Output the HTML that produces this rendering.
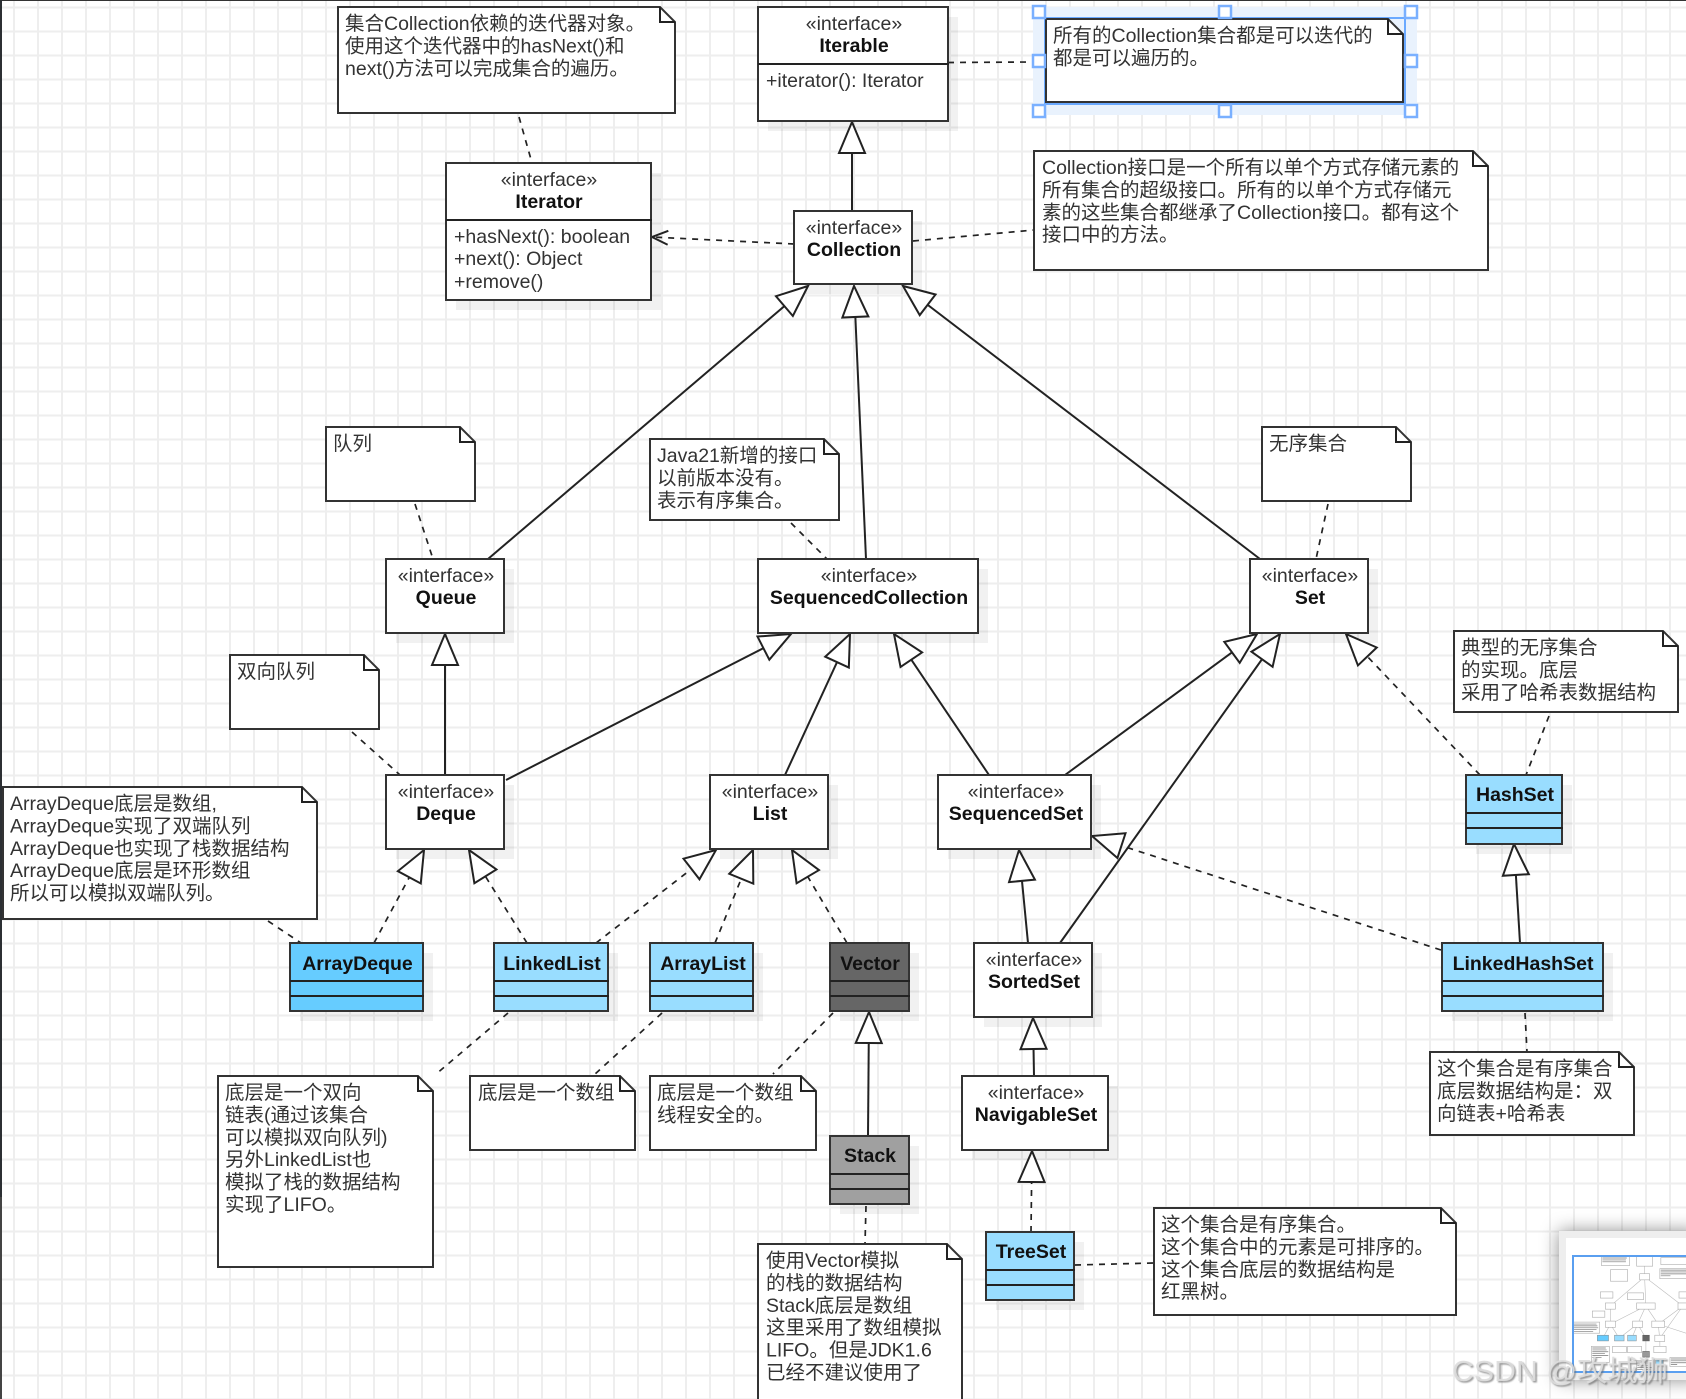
<!DOCTYPE html>
<html><head><meta charset="utf-8"><title>Collection</title>
<style>
html,body{margin:0;padding:0;background:#fff;width:1686px;height:1399px;overflow:hidden}
svg{display:block}
text{font-family:"Liberation Sans","Noto Sans CJK SC",sans-serif;font-size:19.5px;fill:#333}
.b{font-weight:700;fill:#111;text-anchor:middle}
.s{text-anchor:middle}
.box{fill:#fff;stroke:#333;stroke-width:2}
.sh{fill:#000;fill-opacity:.055}
.l{stroke:#222;stroke-width:2;fill:none}
.d{stroke:#222;stroke-width:1.7;fill:none;stroke-dasharray:6 6}
.h{fill:#fff;stroke:#7ab0ff;stroke-width:2.5}
</style></head><body>
<svg width="1686" height="1399" viewBox="0 0 1686 1399" xmlns="http://www.w3.org/2000/svg">
<defs>
<pattern id="g" width="24" height="24" patternUnits="userSpaceOnUse">
<rect x="13" y="0" width="2" height="24" fill="#eee"/><rect x="0" y="6.5" width="24" height="2" fill="#eee"/>
</pattern>
<marker id="t" markerUnits="userSpaceOnUse" markerWidth="40" markerHeight="34" refX="35" refY="17" orient="auto">
<path d="M35,17 L4,4 L4,30 Z" fill="#fff" stroke="#222" stroke-width="2"/>
</marker>
<marker id="o" markerUnits="userSpaceOnUse" markerWidth="24" markerHeight="24" refX="20" refY="12" orient="auto">
<path d="M4,5 L20,12 L4,19" fill="none" stroke="#222" stroke-width="2"/>
</marker>
<filter id="bl" x="-20%" y="-20%" width="140%" height="140%"><feGaussianBlur stdDeviation="9"/></filter>
<filter id="bs" x="-10%" y="-10%" width="120%" height="120%"><feGaussianBlur stdDeviation="0.6"/></filter>
<filter id="wb" x="-5%" y="-20%" width="110%" height="140%"><feGaussianBlur stdDeviation="0.7"/></filter>
<clipPath id="mc"><rect x="1573" y="1256" width="113" height="116"/></clipPath>
</defs>
<rect width="1686" height="1399" fill="#fff"/>
<rect width="1686" height="1399" fill="url(#g)"/>
<rect x="0" y="0" width="1686" height="1" fill="#333"/>
<rect x="0" y="0" width="2" height="1197" fill="#2c2f33"/>
<rect x="0" y="1197" width="2" height="202" fill="#444"/>

<!-- shadows -->
<rect class="sh" x="768" y="17" width="190" height="114"/>
<rect class="sh" x="456" y="173" width="205" height="137"/>
<rect class="sh" x="804" y="221" width="118" height="73"/>
<rect class="sh" x="396" y="569" width="118" height="74"/>
<rect class="sh" x="768" y="569" width="220" height="74"/>
<rect class="sh" x="1260" y="569" width="118" height="74"/>
<rect class="sh" x="396" y="785" width="118" height="74"/>
<rect class="sh" x="720" y="785" width="118" height="74"/>
<rect class="sh" x="948" y="785" width="153" height="74"/>
<rect class="sh" x="1476" y="785" width="96" height="69"/>
<rect class="sh" x="300" y="953" width="133" height="68"/>
<rect class="sh" x="504" y="953" width="114" height="68"/>
<rect class="sh" x="660" y="953" width="103" height="68"/>
<rect class="sh" x="840" y="953" width="79" height="68"/>
<rect class="sh" x="984" y="953" width="118" height="74"/>
<rect class="sh" x="1452" y="953" width="161" height="68"/>
<rect class="sh" x="972" y="1086" width="146" height="74"/>
<rect class="sh" x="840" y="1146" width="79" height="68"/>
<rect class="sh" x="996" y="1242" width="88" height="68"/>

<!-- selection highlight -->
<rect x="1033" y="7" width="384" height="108" fill="#e9f2fd"/>

<!-- solid generalization -->
<g class="l">
<line x1="852" y1="211" x2="852" y2="122" marker-end="url(#t)"/>
<line x1="488" y1="559" x2="808" y2="286" marker-end="url(#t)"/>
<line x1="866" y1="559" x2="854" y2="286" marker-end="url(#t)"/>
<line x1="1260" y1="559" x2="903" y2="286" marker-end="url(#t)"/>
<line x1="445" y1="775" x2="445" y2="634" marker-end="url(#t)"/>
<line x1="506" y1="780" x2="791" y2="634" marker-end="url(#t)"/>
<line x1="785" y1="775" x2="850" y2="634" marker-end="url(#t)"/>
<line x1="989" y1="775" x2="894" y2="634" marker-end="url(#t)"/>
<line x1="1065" y1="775" x2="1257" y2="634" marker-end="url(#t)"/>
<line x1="1028" y1="943" x2="1019" y2="850" marker-end="url(#t)"/>
<line x1="1520" y1="943" x2="1514" y2="844" marker-end="url(#t)"/>
<line x1="1034" y1="1076" x2="1033" y2="1018" marker-end="url(#t)"/>
<line x1="868" y1="1136" x2="869" y2="1012" marker-end="url(#t)"/>
</g>
<!-- dashed generalization -->
<g class="d">
<line x1="1480" y1="775" x2="1346" y2="634" marker-end="url(#t)"/>
<line x1="374" y1="943" x2="424" y2="850" marker-end="url(#t)"/>
<line x1="527" y1="943" x2="469" y2="850" marker-end="url(#t)"/>
<line x1="596" y1="943" x2="716" y2="850" marker-end="url(#t)"/>
<line x1="715" y1="943" x2="753" y2="850" marker-end="url(#t)"/>
<line x1="847" y1="943" x2="792" y2="850" marker-end="url(#t)"/>
<line x1="1441" y1="950" x2="1092" y2="836" marker-end="url(#t)"/>
<line x1="1031" y1="1232" x2="1032" y2="1151" marker-end="url(#t)"/>
<line x1="794" y1="244" x2="652" y2="237" marker-end="url(#o)"/>
<!-- note links -->
<line x1="519" y1="117" x2="532" y2="163"/>
<line x1="948" y1="62.500" x2="1033" y2="62"/>
<line x1="913" y1="241" x2="1034" y2="230"/>
<line x1="415" y1="504" x2="433" y2="559"/>
<line x1="791" y1="523" x2="827" y2="559"/>
<line x1="1328" y1="504" x2="1316" y2="559"/>
<line x1="352" y1="732" x2="400" y2="775"/>
<line x1="1549" y1="716" x2="1526" y2="775"/>
<line x1="268" y1="921" x2="301" y2="943"/>
<line x1="1525" y1="1013" x2="1527" y2="1052"/>
<line x1="1075" y1="1265" x2="1154" y2="1263"/>
<line x1="866" y1="1206" x2="865" y2="1244"/>
<line x1="508" y1="1013" x2="435" y2="1075"/>
<line x1="662" y1="1013" x2="594" y2="1075"/>
<line x1="833" y1="1013" x2="773" y2="1074"/>
</g>
<line class="l" x1="1060" y1="943" x2="1280" y2="634" marker-end="url(#t)"/>

<!-- notes -->
<g>
<path class="box" d="M338,7H660L675,22V113H338Z"/><path class="l" d="M660,7V22H675"/>
<text x="345" y="30">集合Collection依赖的迭代器对象。</text><text x="345" y="52.4">使用这个迭代器中的hasNext()和</text><text x="345" y="74.8">next()方法可以完成集合的遍历。</text>

<rect x="1045" y="18" width="360" height="86" fill="none" stroke="#6aa9ff" stroke-width="2"/>
<path class="box" d="M1046,19H1388L1403,34V102H1046Z"/><path class="l" d="M1388,19V34H1403"/>
<text x="1053" y="42">所有的Collection集合都是可以迭代的</text><text x="1053" y="64.4">都是可以遍历的。</text>

<path class="box" d="M1034,151H1473L1488,166V270H1034Z"/><path class="l" d="M1473,151V166H1488"/>
<text x="1042" y="174">Collection接口是一个所有以单个方式存储元素的</text><text x="1042" y="196.4">所有集合的超级接口。所有的以单个方式存储元</text><text x="1042" y="218.8">素的这些集合都继承了Collection接口。都有这个</text><text x="1042" y="241.2">接口中的方法。</text>

<path class="box" d="M326,427H460L475,442V501H326Z"/><path class="l" d="M460,427V442H475"/>
<text x="333" y="450">队列</text>

<path class="box" d="M650,439H824L839,454V520H650Z"/><path class="l" d="M824,439V454H839"/>
<text x="657" y="462">Java21新增的接口</text><text x="657" y="484.4">以前版本没有。</text><text x="657" y="506.8">表示有序集合。</text>

<path class="box" d="M1262,427H1396L1411,442V501H1262Z"/><path class="l" d="M1396,427V442H1411"/>
<text x="1269" y="450">无序集合</text>

<path class="box" d="M1454,631H1663L1678,646V712H1454Z"/><path class="l" d="M1663,631V646H1678"/>
<text x="1461" y="654">典型的无序集合</text><text x="1461" y="676.4">的实现。底层</text><text x="1461" y="698.8">采用了哈希表数据结构</text>

<path class="box" d="M230,655H364L379,670V729H230Z"/><path class="l" d="M364,655V670H379"/>
<text x="237" y="678">双向队列</text>

<path class="box" d="M3,787H302L317,802V919H3Z"/><path class="l" d="M302,787V802H317"/>
<text x="10" y="810">ArrayDeque底层是数组,</text><text x="10" y="832.4">ArrayDeque实现了双端队列</text><text x="10" y="854.8">ArrayDeque也实现了栈数据结构</text><text x="10" y="877.2">ArrayDeque底层是环形数组</text><text x="10" y="899.6">所以可以模拟双端队列。</text>

<path class="box" d="M218,1076H418L433,1091V1267H218Z"/><path class="l" d="M418,1076V1091H433"/>
<text x="225" y="1099">底层是一个双向</text><text x="225" y="1121.4">链表(通过该集合</text><text x="225" y="1143.8">可以模拟双向队列)</text><text x="225" y="1166.2">另外LinkedList也</text><text x="225" y="1188.6">模拟了栈的数据结构</text><text x="225" y="1211">实现了LIFO。</text>

<path class="box" d="M470,1076H620L635,1091V1150H470Z"/><path class="l" d="M620,1076V1091H635"/>
<text x="478" y="1099">底层是一个数组</text>

<path class="box" d="M650,1076H801L816,1091V1150H650Z"/><path class="l" d="M801,1076V1091H816"/>
<text x="657" y="1099">底层是一个数组</text><text x="657" y="1121.4">线程安全的。</text>

<path class="box" d="M758,1244H947L962,1259V1410H758Z"/><path class="l" d="M947,1244V1259H962"/>
<text x="766" y="1267">使用Vector模拟</text><text x="766" y="1289.4">的栈的数据结构</text><text x="766" y="1311.8">Stack底层是数组</text><text x="766" y="1334.2">这里采用了数组模拟</text><text x="766" y="1356.6">LIFO。但是JDK1.6</text><text x="766" y="1379">已经不建议使用了</text>

<path class="box" d="M1430,1052H1619L1634,1067V1135H1430Z"/><path class="l" d="M1619,1052V1067H1634"/>
<text x="1437" y="1075">这个集合是有序集合</text><text x="1437" y="1097.4">底层数据结构是：双</text><text x="1437" y="1119.8">向链表+哈希表</text>

<path class="box" d="M1154,1208H1441L1456,1223V1315H1154Z"/><path class="l" d="M1441,1208V1223H1456"/>
<text x="1161" y="1231">这个集合是有序集合。</text><text x="1161" y="1253.4">这个集合中的元素是可排序的。</text><text x="1161" y="1275.8">这个集合底层的数据结构是</text><text x="1161" y="1298.2">红黑树。</text>
</g>

<!-- handles -->
<rect class="h" x="1033" y="6" width="12" height="12"/><rect class="h" x="1219" y="6" width="12" height="12"/><rect class="h" x="1405" y="6" width="12" height="12"/>
<rect class="h" x="1033" y="55" width="12" height="12"/><rect class="h" x="1405" y="55" width="12" height="12"/>
<rect class="h" x="1033" y="105" width="12" height="12"/><rect class="h" x="1219" y="105" width="12" height="12"/><rect class="h" x="1405" y="105" width="12" height="12"/>

<!-- classes -->
<rect class="box" x="758" y="7" width="190" height="114"/><line class="l" x1="758" y1="64" x2="949" y2="64"/>
<text class="s" x="854" y="30">«interface»</text><text class="b" x="854" y="52">Iterable</text><text x="766" y="87">+iterator(): Iterator</text>

<rect class="box" x="446" y="163" width="205" height="137"/><line class="l" x1="446" y1="220" x2="652" y2="220"/>
<text class="s" x="549" y="186">«interface»</text><text class="b" x="549" y="208">Iterator</text>
<text x="454" y="243">+hasNext(): boolean</text><text x="454" y="265">+next(): Object</text><text x="454" y="288">+remove()</text>

<rect class="box" x="794" y="211" width="118" height="73"/>
<text class="s" x="854" y="234">«interface»</text><text class="b" x="854" y="256">Collection</text>

<rect class="box" x="386" y="559" width="118" height="74"/>
<text class="s" x="446" y="582">«interface»</text><text class="b" x="446" y="604">Queue</text>

<rect class="box" x="758" y="559" width="220" height="74"/>
<text class="s" x="869" y="582">«interface»</text><text class="b" x="869" y="604">SequencedCollection</text>

<rect class="box" x="1250" y="559" width="118" height="74"/>
<text class="s" x="1310" y="582">«interface»</text><text class="b" x="1310" y="604">Set</text>

<rect class="box" x="386" y="775" width="118" height="74"/>
<text class="s" x="446" y="798">«interface»</text><text class="b" x="446" y="820">Deque</text>

<rect class="box" x="710" y="775" width="118" height="74"/>
<text class="s" x="770" y="798">«interface»</text><text class="b" x="770" y="820">List</text>

<rect class="box" x="938" y="775" width="153" height="74"/>
<text class="s" x="1016" y="798">«interface»</text><text class="b" x="1016" y="820">SequencedSet</text>

<rect class="box" x="974" y="943" width="118" height="74"/>
<text class="s" x="1034" y="966">«interface»</text><text class="b" x="1034" y="988">SortedSet</text>

<rect class="box" x="962" y="1076" width="146" height="74"/>
<text class="s" x="1036" y="1099">«interface»</text><text class="b" x="1036" y="1121">NavigableSet</text>

<rect class="box" x="1466" y="775" width="96" height="69" style="fill:#99ddff"/><path class="l" d="M1466,813H1563M1466,828H1563"/>
<text class="b" x="1515" y="801">HashSet</text>

<rect class="box" x="290" y="943" width="133" height="68" style="fill:#66ccff"/><path class="l" d="M290,981H424M290,996H424"/>
<text class="b" x="357.500" y="970">ArrayDeque</text>

<rect class="box" x="494" y="943" width="114" height="68" style="fill:#99ddff"/><path class="l" d="M494,981H609M494,996H609"/>
<text class="b" x="552" y="970">LinkedList</text>

<rect class="box" x="650" y="943" width="103" height="68" style="fill:#99ddff"/><path class="l" d="M650,981H754M650,996H754"/>
<text class="b" x="703" y="970">ArrayList</text>

<rect class="box" x="830" y="943" width="79" height="68" style="fill:#666"/><path class="l" d="M830,981H910M830,996H910"/>
<text class="b" x="870" y="970">Vector</text>

<rect class="box" x="1442" y="943" width="161" height="68" style="fill:#99ddff"/><path class="l" d="M1442,981H1604M1442,996H1604"/>
<text class="b" x="1523" y="970">LinkedHashSet</text>

<rect class="box" x="830" y="1136" width="79" height="68" style="fill:#a0a0a0"/><path class="l" d="M830,1174H910M830,1189H910"/>
<text class="b" x="870" y="1162">Stack</text>

<rect class="box" x="986" y="1232" width="88" height="68" style="fill:#99ddff"/><path class="l" d="M986,1270H1075M986,1285H1075"/>
<text class="b" x="1031" y="1258">TreeSet</text>

<!-- minimap -->
<rect x="1559" y="1231" width="140" height="149" fill="#000" fill-opacity=".45" filter="url(#bl)"/>
<rect x="1559" y="1231" width="127" height="149" fill="#eee"/>
<rect x="1566" y="1238" width="120" height="135" fill="#fff"/>
<g clip-path="url(#mc)"><g transform="translate(1573,1256) scale(.084)" filter="url(#bs)">
<g stroke="#bbb" stroke-width="7" fill="none">
<path d="M852,211V121M488,559L808,286M866,559L854,286M1260,559L903,286M445,775V634M506,780L791,634M785,775L850,634M989,775L894,634M1065,775L1257,634M1060,943L1280,634M1028,943L1019,850M1441,950L1092,836M1034,1076V1018M868,1136V1012M374,943L424,850M527,943L469,850M596,943L716,850M715,943L753,850M847,943L792,850"/>
</g>
<g fill="#fff" stroke="#aaa" stroke-width="7">
<rect x="338" y="7" width="337" height="106"/><rect x="758" y="7" width="190" height="114"/><rect x="1046" y="19" width="357" height="83"/>
<rect x="446" y="163" width="205" height="137"/><rect x="794" y="211" width="118" height="73"/><rect x="1034" y="151" width="454" height="119"/>
<rect x="326" y="427" width="149" height="74"/><rect x="649" y="439" width="190" height="81"/><rect x="1262" y="427" width="149" height="74"/>
<rect x="386" y="559" width="118" height="74"/><rect x="758" y="559" width="220" height="74"/><rect x="1250" y="559" width="118" height="74"/>
<rect x="230" y="655" width="149" height="74"/><rect x="3" y="787" width="314" height="132"/><rect x="386" y="775" width="118" height="74"/>
<rect x="710" y="775" width="118" height="74"/><rect x="938" y="775" width="153" height="74"/><rect x="974" y="943" width="118" height="74"/>
<rect x="962" y="1076" width="146" height="74"/><rect x="218" y="1076" width="215" height="191"/><rect x="470" y="1076" width="165" height="74"/>
<rect x="649" y="1076" width="167" height="74"/><rect x="758" y="1244" width="204" height="160"/><rect x="1154" y="1208" width="302" height="107"/>
</g>
<rect x="290" y="943" width="133" height="68" fill="#66ccff" stroke="#888" stroke-width="6"/>
<rect x="494" y="943" width="114" height="68" fill="#99ddff" stroke="#888" stroke-width="6"/>
<rect x="650" y="943" width="103" height="68" fill="#99ddff" stroke="#888" stroke-width="6"/>
<rect x="830" y="943" width="79" height="68" fill="#666" stroke="#555" stroke-width="6"/>
<rect x="830" y="1136" width="79" height="68" fill="#999" stroke="#555" stroke-width="6"/>
<rect x="986" y="1232" width="88" height="68" fill="#99ddff" stroke="#888" stroke-width="6"/>
<path d="M12,810H280M12,832H290M12,855H300M12,877H280M12,900H240M230,1095H390M230,1118H400M230,1140H420M230,1163H380M230,1186H420M230,1208H340M1165,1226H1370M1165,1248H1440M1165,1271H1400M1165,1293H1240M1045,168H1470M1045,190H1450M1045,213H1470M1045,236H1160M350,24H640M350,47H630M350,69H630M765,1262H900M765,1285H900M765,1307H900M765,1330H940M765,1352H920M765,1375H900" stroke="#777" stroke-width="8" fill="none"/>
</g></g>
<rect x="1573" y="1256" width="120" height="116" fill="none" stroke="#5a9ff0" stroke-width="2"/>

<!-- watermark -->
<text x="1453.500" y="1382.500" textLength="216" lengthAdjust="spacingAndGlyphs" filter="url(#wb)" style="font-size:29px;fill:#666;fill-opacity:.65">CSDN @攻城狮</text>
<text x="1452" y="1381" textLength="216" lengthAdjust="spacingAndGlyphs" style="font-size:29px;fill:#ddd;fill-opacity:.9">CSDN @攻城狮</text>
</svg>
</body></html>
